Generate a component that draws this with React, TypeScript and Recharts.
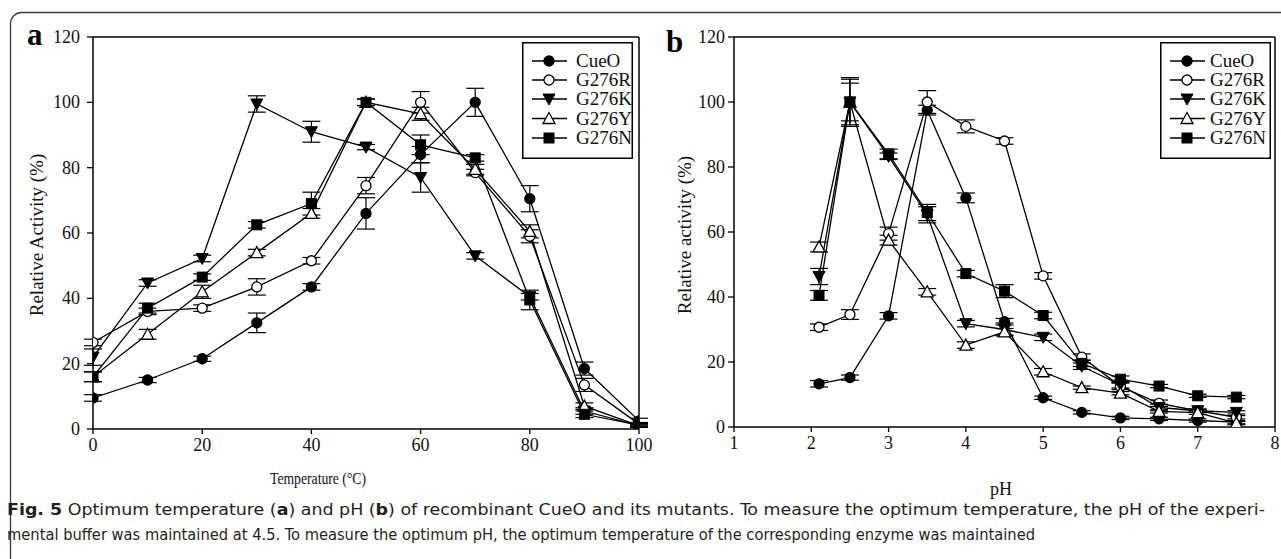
import React from 'react';
import { LineChart, Line, XAxis, YAxis, ErrorBar, ReferenceLine, Legend } from 'recharts';

const FONT = 'Liberation Serif, Times New Roman, serif';
const CAPTION_FONT = 'Liberation Sans Narrow, DejaVu Sans Condensed, Roboto, sans-serif';

const seriesNames = ['CueO', 'G276R', 'G276K', 'G276Y', 'G276N'];
const markerShapes = ['filledCircle', 'openCircle', 'filledDown', 'openUp', 'filledSquare'];

// Panel a: temperature
const temperatures = [0, 10, 20, 30, 40, 50, 60, 70, 80, 90, 100];
const tempCueO = [9.5, 15, 21.5, 32.5, 43.5, 66, 84, 100, 70.5, 18.5, 2.5];
const tempCueOErr = [1, 0.8, 0.8, 3, 1, 4.8, 2.5, 4.3, 4, 2, 0.8];
const tempG276R = [26.5, 36, 37, 43.5, 51.5, 74.5, 100, 78.5, 59, 13.5, 1.5];
const tempG276RErr = [1, 1, 1, 2.5, 1, 2.5, 3.3, 1, 2, 2, 0.5];
const tempG276K = [22, 44.7, 52.2, 99.5, 91, 86.3, 77, 53, 40.5, 5.5, 1];
const tempG276KErr = [2.5, 1, 1, 2.5, 3.2, 0.8, 4.5, 1, 1, 1, 0.5];
const tempG276Y = [16, 29, 42, 54, 66, 100, 96.5, 79.5, 60.5, 7, 1];
const tempG276YErr = [1.5, 1.5, 2, 1, 1.5, 1, 2, 1.5, 2, 1, 0.5];
const tempG276N = [16, 37, 46.5, 62.5, 69, 100, 87, 83, 39.5, 4.5, 1.2];
const tempG276NErr = [1.5, 1.5, 1, 1, 3.5, 1, 3, 1, 3, 1, 0.5];
const tempXTicks = [0, 20, 40, 60, 80, 100];

// Panel b: pH
const phValues = [2.1, 2.5, 3, 3.5, 4, 4.5, 5, 5.5, 6, 6.5, 7, 7.5];
const phCueO = [13.3, 15.2, 34.2, 97.5, 70.5, 32.4, 9, 4.5, 2.8, 2.5, 2, 1.5];
const phCueOErr = [1, 0.8, 1, 1.5, 1.5, 1, 0.5, 0.5, 0.5, 0.5, 0.5, 0.5];
const phG276R = [30.7, 34.6, 59.5, 100, 92.5, 88, 46.5, 21.5, 12.5, 7.3, 5, 3];
const phG276RErr = [1, 1.5, 2, 3.5, 2, 1, 1, 1, 1, 1, 0.5, 0.5];
const phG276K = [46.3, 100, 83.3, 65.3, 31.8, 30, 27.6, 18.7, 13, 6, 5, 4.5];
const phG276KErr = [2.5, 7.5, 1, 2.5, 1, 2, 1, 1, 1, 1, 0.5, 0.5];
const phG276Y = [55.4, 100, 57.5, 41.6, 25.2, 29.3, 17, 12.1, 10.4, 4.8, 4.4, 1.2];
const phG276YErr = [1.5, 7, 1.5, 1, 1, 1, 1, 0.5, 0.5, 0.5, 0.5, 0.5];
const phG276N = [40.5, 100, 84, 66, 47.2, 41.8, 34.3, 19.6, 14.7, 12.6, 9.6, 9.2];
const phG276NErr = [1.5, 5.8, 1.5, 2.5, 1, 2, 1, 1, 1, 0.5, 0.5, 0.5];
const phXTicks = [1, 2, 3, 4, 5, 6, 7, 8];

const yTicks = [0, 20, 40, 60, 80, 100, 120];

function buildRows(xs: number[], vals: number[][], errs: number[][]) {
  return xs.map((x, i) => {
    const row: Record<string, number> = { x };
    seriesNames.forEach((n, s) => {
      row[n] = vals[s][i];
      row[n + '_err'] = errs[s][i];
    });
    return row;
  });
}

const rowsA = buildRows(
  temperatures,
  [tempCueO, tempG276R, tempG276K, tempG276Y, tempG276N],
  [tempCueOErr, tempG276RErr, tempG276KErr, tempG276YErr, tempG276NErr]
);
const rowsB = buildRows(
  phValues,
  [phCueO, phG276R, phG276K, phG276Y, phG276N],
  [phCueOErr, phG276RErr, phG276KErr, phG276YErr, phG276NErr]
);

function Marker({ shape, cx, cy }: { shape: string; cx: number; cy: number }) {
  const sw = 1.3;
  switch (shape) {
    case 'filledCircle':
      return <circle cx={cx} cy={cy} r={5} fill="#000" stroke="#000" strokeWidth={sw} />;
    case 'openCircle':
      return <circle cx={cx} cy={cy} r={5} fill="#fff" stroke="#000" strokeWidth={sw} />;
    case 'filledDown':
      return (
        <polygon
          points={`${cx - 6},${cy - 5} ${cx + 6},${cy - 5} ${cx},${cy + 6}`}
          fill="#000"
          stroke="#000"
          strokeWidth={1}
        />
      );
    case 'openUp':
      return (
        <polygon
          points={`${cx},${cy - 6} ${cx - 6},${cy + 5} ${cx + 6},${cy + 5}`}
          fill="#fff"
          stroke="#000"
          strokeWidth={sw}
        />
      );
    default:
      return <rect x={cx - 5} y={cy - 5} width={10} height={10} fill="#000" stroke="#000" strokeWidth={1} />;
  }
}

function makeDot(shape: string, name: string) {
  return (props: any) => {
    const { cx, cy, index } = props;
    if (cx == null || cy == null) return <g key={`${name}-${index}`} />;
    return (
      <g key={`${name}-${index}`}>
        <Marker shape={shape} cx={cx} cy={cy} />
      </g>
    );
  };
}

const renderXTick = (props: any) => {
  const { x, y, payload, index } = props;
  return (
    <text
      key={`xt-${index}`}
      x={x}
      y={y + 13}
      textAnchor="middle"
      fontFamily="Liberation Serif"
      fontSize={18}
      fill="#111"
      stroke="none"
    >
      {String(payload.value)}
    </text>
  );
};

const renderYTick = (props: any) => {
  const { x, y, payload, index } = props;
  return (
    <text
      key={`yt-${index}`}
      x={x}
      y={y + 6}
      textAnchor="end"
      fontFamily="Liberation Serif"
      fontSize={18}
      fill="#111"
      stroke="none"
    >
      {String(payload.value)}
    </text>
  );
};

function LegendBox({ textX }: { textX: number }) {
  const rows = [19, 38, 57, 76.5, 96];
  return (
    <svg width={111} height={117} style={{ display: 'block' }}>
      <rect x={0.75} y={0.75} width={109.5} height={115.5} fill="#fff" stroke="#000" strokeWidth={1.5} />
      {seriesNames.map((n, i) => (
        <g key={n}>
          <line x1={10} x2={45} y1={rows[i]} y2={rows[i]} stroke="#000" strokeWidth={1.5} />
          <Marker shape={markerShapes[i]} cx={27} cy={rows[i]} />
          <text x={textX} y={rows[i] + 6} fontFamily="Liberation Serif" fontSize={19} fill="#111">
            {n}
          </text>
        </g>
      ))}
    </svg>
  );
}

const axisLine = { stroke: '#000', strokeWidth: 1.5 };
const tickLine = { stroke: '#000', strokeWidth: 1.3 };

function Panel({
  rows,
  xDomain,
  xTicks,
  yAxisWidth,
  width,
  height,
  right,
  xAxisHeight,
  yTickMargin,
  legendLeft,
  legendTextX,
}: any) {
  return (
    <LineChart
      width={width}
      height={height}
      data={rows}
      margin={{ top: 37, right, left: 0, bottom: 0 }}
    >
      <XAxis
        dataKey="x"
        type="number"
        domain={xDomain}
        ticks={xTicks}
        interval={0}
        height={xAxisHeight}
        tickSize={5}
        tickMargin={4}
        axisLine={axisLine}
        tickLine={tickLine}
        tick={renderXTick}
        allowDataOverflow
      />
      <YAxis
        type="number"
        domain={[0, 120]}
        ticks={yTicks}
        interval={0}
        width={yAxisWidth}
        tickSize={6}
        tickMargin={yTickMargin}
        axisLine={axisLine}
        tickLine={tickLine}
        tick={renderYTick}
        allowDataOverflow
      />
      <ReferenceLine y={120} stroke="#000" strokeWidth={1.5} />
      <ReferenceLine x={xDomain[1]} stroke="#000" strokeWidth={1.5} />
      <Legend
        layout="vertical"
        align="center"
        verticalAlign="middle"
        wrapperStyle={{ left: legendLeft, top: 42, width: 111, height: 117 }}
        content={() => <LegendBox textX={legendTextX} />}
      />
      {seriesNames.map((n, i) => (
        <Line
          key={n}
          dataKey={n}
          type="linear"
          stroke="#000"
          strokeWidth={1.3}
          dot={makeDot(markerShapes[i], n)}
          activeDot={false}
          isAnimationActive={false}
          legendType="none"
        >
          <ErrorBar dataKey={n + '_err'} width={9} stroke="#000" strokeWidth={1.2} direction="y" />
        </Line>
      ))}
    </LineChart>
  );
}

export default function App() {
  return (
    <div
      style={{
        position: 'absolute',
        left: 0,
        top: 0,
        width: 1281,
        height: 559,
        overflow: 'hidden',
        background: '#fff',
        fontFamily: FONT,
      }}
    >
      <svg width={1281} height={559} style={{ position: 'absolute', left: 0, top: 0 }}>
        <rect x={10.5} y={12.5} width={1320} height={620} rx={11} fill="none" stroke="#3a3a3a" strokeWidth={1.3} />
        <text x={27} y={45} fontFamily="Liberation Serif" fontWeight="bold" fontSize={31} fill="#000">a</text>
        <text x={666} y={52} fontFamily="Liberation Serif" fontWeight="bold" fontSize={31} fill="#000">b</text>
        <text
          transform="translate(36,235) rotate(-90)"
          textAnchor="middle"
          dominantBaseline="central"
          fontFamily="Liberation Serif"
          fontSize={19}
          fill="#111"
        >
          Relative Activity (%)
        </text>
        <text
          transform="translate(684,235) rotate(-90)"
          textAnchor="middle"
          dominantBaseline="central"
          fontFamily="Liberation Serif"
          fontSize={19}
          fill="#111"
        >
          Relative activity (%)
        </text>
        <text
          x={270}
          y={484}
          textLength={96}
          lengthAdjust="spacingAndGlyphs"
          fontFamily="Liberation Serif"
          fontSize={17}
          fill="#111"
        >
          Temperature (°C)
        </text>
        <text x={1001} y={495} textAnchor="middle" fontFamily="Liberation Serif" fontSize={18} fill="#111">
          pH
        </text>
        <text
          x={7}
          y={515}
          textLength={1258}
          lengthAdjust="spacingAndGlyphs"
          fontFamily={CAPTION_FONT}
          fontSize={16}
          fill="#231f20"
        >
          <tspan fontWeight="bold">Fig. 5</tspan>
          <tspan>{'  Optimum temperature ('}</tspan>
          <tspan fontWeight="bold">a</tspan>
          <tspan>{') and pH ('}</tspan>
          <tspan fontWeight="bold">b</tspan>
          <tspan>
            {') of recombinant CueO and its mutants. To measure the optimum temperature, the pH of the experi-'}
          </tspan>
        </text>
        <text
          x={7}
          y={540}
          textLength={1028}
          lengthAdjust="spacingAndGlyphs"
          fontFamily={CAPTION_FONT}
          fontSize={16}
          fill="#231f20"
        >
          mental buffer was maintained at 4.5. To measure the optimum pH, the optimum temperature of the corresponding enzyme was maintained
        </text>
      </svg>
      <div style={{ position: 'absolute', left: 0, top: 0 }}>
        <Panel
          rows={rowsA}
          xDomain={[0, 100]}
          xTicks={tempXTicks}
          yAxisWidth={93}
          width={660}
          height={470}
          right={21}
          xAxisHeight={41}
          yTickMargin={7}
          legendLeft={522}
          legendTextX={54}
        />
      </div>
      <div style={{ position: 'absolute', left: 640, top: 0 }}>
        <Panel
          rows={rowsB}
          xDomain={[1, 8]}
          xTicks={phXTicks}
          yAxisWidth={94}
          width={641}
          height={470}
          right={6}
          xAxisHeight={43}
          yTickMargin={3}
          legendLeft={520}
          legendTextX={50}
        />
      </div>
    </div>
  );
}
